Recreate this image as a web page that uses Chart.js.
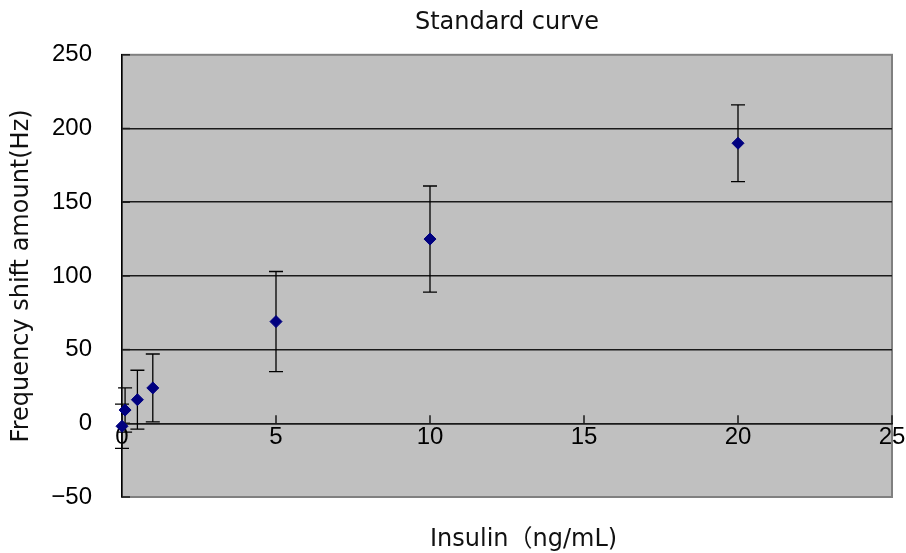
<!DOCTYPE html>
<html>
<head>
<meta charset="utf-8">
<script src="https://cdn.jsdelivr.net/npm/chart.js@4"></script>
<style>
  html, body { margin: 0; padding: 0; background: #fff; }
  #wrap { width: 906px; height: 553px; }
</style>
</head>
<body>
<div id="wrap"><canvas id="curve"></canvas></div>
<script>
// data
const insulin = [0, 0.1, 0.5, 1, 5, 10, 20];          // ng/mL
const shift = [-2, 9, 16, 24, 69, 125, 190];           // Hz
const shiftErr = [15, 15, 20, 23, 34, 36, 26];         // +/- Hz
const xTicks = [0, 5, 10, 15, 20, 25];
const yTicks = [-50, 0, 50, 100, 150, 200, 250];
const xTitle = 'Insulin（ng/mL)';

const points = insulin.map((x, i) => ({ x: x, y: shift[i] }));

// gray plot area with gray frame (Excel look)
const plotArea = {
    id: 'plotArea',
    beforeDraw(chart) {
        const { ctx, chartArea: a } = chart;
        ctx.save();
        ctx.fillStyle = '#c0c0c0';
        ctx.fillRect(a.left, a.top, a.right - a.left, a.bottom - a.top);
        ctx.strokeStyle = '#808080';
        ctx.lineWidth = 2;
        ctx.strokeRect(a.left, a.top, a.right - a.left, a.bottom - a.top);
        ctx.restore();
    },
    afterDraw(chart) {
        // x axis title sits at the bottom, the axis itself runs along y = 0
        const { ctx, chartArea: a } = chart;
        ctx.save();
        ctx.fillStyle = '#111';
        ctx.font = "24px 'DejaVu Sans', 'Noto Sans CJK JP', sans-serif";
        ctx.textAlign = 'left';
        ctx.textBaseline = 'middle';
        ctx.fillText(xTitle, 430, a.bottom + 43);
        ctx.restore();
    }
};

// vertical error bars with caps, plus inside tick marks on both axes
const errorBars = {
    id: 'errorBars',
    beforeDatasetsDraw(chart) {
        const { ctx, scales: { x, y } } = chart;
        ctx.save();
        ctx.strokeStyle = '#000';
        ctx.lineWidth = 1.3;
        insulin.forEach((v, i) => {
            const px = x.getPixelForValue(v);
            const top = y.getPixelForValue(shift[i] + shiftErr[i]);
            const bot = y.getPixelForValue(shift[i] - shiftErr[i]);
            ctx.beginPath();
            ctx.moveTo(px, top); ctx.lineTo(px, bot);
            ctx.moveTo(px - 7, top); ctx.lineTo(px + 7, top);
            ctx.moveTo(px - 7, bot); ctx.lineTo(px + 7, bot);
            ctx.stroke();
        });
        const y0 = y.getPixelForValue(0);
        ctx.lineWidth = 1.5;
        ctx.strokeStyle = '#1a1a1a';
        xTicks.forEach(t => {
            const px = x.getPixelForValue(t);
            ctx.beginPath();
            ctx.moveTo(px, y0); ctx.lineTo(px, y0 - 8);
            ctx.stroke();
        });
        yTicks.forEach(t => {
            const py = y.getPixelForValue(t);
            ctx.beginPath();
            ctx.moveTo(x.left, py); ctx.lineTo(x.left + 8, py);
            ctx.stroke();
        });
        ctx.restore();
    }
};

new Chart(document.getElementById('curve'), {
    type: 'scatter',
    data: {
        datasets: [{
            label: 'Standard curve',
            data: points,
            clip: false,
            pointStyle: 'rectRot',
            pointRadius: 6,
            pointHoverRadius: 6,
            backgroundColor: '#000080',
            borderColor: '#000080',
            borderWidth: 1
        }]
    },
    options: {
        responsive: true,
        maintainAspectRatio: false,
        animation: false,
        layout: { padding: { left: 0, right: 14, top: 0, bottom: 56 } },
        plugins: {
            legend: { display: false },
            tooltip: { enabled: false },
            title: {
                display: true,
                text: 'Standard curve',
                fullSize: false,
                color: '#111',
                font: { family: "'DejaVu Sans', sans-serif", size: 24, weight: 'normal' },
                padding: { top: 8, bottom: 18 }
            }
        },
        scales: {
            x: {
                type: 'linear',
                position: { y: 0 },
                min: 0,
                max: 25,
                afterBuildTicks: s => { s.ticks = xTicks.map(v => ({ value: v })); },
                grid: { drawOnChartArea: false, drawTicks: false },
                border: { color: '#1a1a1a', width: 1.5 },
                ticks: {
                    color: '#000',
                    padding: 0,
                    maxRotation: 0,
                    font: { family: "'Liberation Sans', sans-serif", size: 24 }
                }
            },
            y: {
                min: -50,
                max: 250,
                afterBuildTicks: s => { s.ticks = yTicks.map(v => ({ value: v })); },
                afterFit: s => { s.width = 122; },
                grid: {
                    drawTicks: false,
                    lineWidth: 1.5,
                    color: c => (c.tick && (c.tick.value === 250 || c.tick.value === -50)) ? 'rgba(0,0,0,0)' : '#1a1a1a'
                },
                border: { color: '#000', width: 1.5 },
                ticks: {
                    color: '#000',
                    padding: 30,
                    font: { family: "'Liberation Sans', sans-serif", size: 24 },
                    callback: v => String(v).replace('-', '\u2212')
                },
                title: {
                    display: true,
                    text: 'Frequency shift amount(Hz)',
                    color: '#111',
                    font: { family: "'DejaVu Sans', sans-serif", size: 24 },
                    padding: { top: 7, bottom: 0 }
                }
            }
        }
    },
    plugins: [plotArea, errorBars]
});
</script>
</body>
</html>
